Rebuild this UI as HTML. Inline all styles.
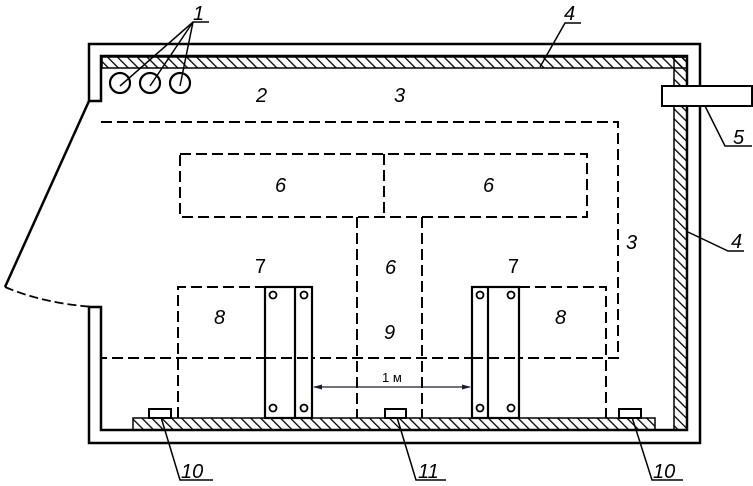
<!DOCTYPE html>
<html><head><meta charset="utf-8"><style>
html,body{margin:0;padding:0;background:#fff;}
svg{display:block;}
text{font-family:"Liberation Sans",sans-serif;font-size:20px;font-style:italic;fill:#000;}
</style></head><body>
<svg width="753" height="486" viewBox="0 0 753 486" xmlns="http://www.w3.org/2000/svg">
<defs>
<pattern id="h" patternUnits="userSpaceOnUse" width="7" height="7" patternTransform="rotate(-45)">
<line x1="0" y1="0" x2="0" y2="7" stroke="#000" stroke-width="2.6"/>
</pattern>
</defs>
<g fill="none" stroke="#000" stroke-width="2.5">
<polyline points="89,101 89,44 700,44 700,443 89,443 89,307 101,307 101,430 687,430 687,56 101,56 101,101 89,101"/>
</g>
<rect x="102" y="57" width="585" height="11" fill="url(#h)" stroke="#000" stroke-width="1.5"/>
<rect x="674" y="57" width="13" height="373" fill="url(#h)" stroke="#000" stroke-width="1.5"/>
<rect x="133" y="418" width="522" height="12" fill="url(#h)" stroke="#000" stroke-width="1.5"/>
<rect x="662" y="86" width="90" height="20" fill="#fff" stroke="#000" stroke-width="2"/>
<line x1="89" y1="101" x2="5" y2="287" stroke="#000" stroke-width="2.5"/>
<path d="M5,287 Q45,304 96,307" fill="none" stroke="#000" stroke-width="1.8" stroke-dasharray="9,4"/>
<g fill="none" stroke="#000" stroke-width="2.2">
<circle cx="120" cy="83" r="10"/><circle cx="150" cy="83" r="10"/><circle cx="180" cy="83" r="10"/>
</g>
<g stroke="#000" stroke-width="1.5" fill="none">
<polyline points="120,86 193,22 209,22"/>
<line x1="150" y1="86" x2="193" y2="22"/>
<line x1="180" y1="86" x2="193" y2="22"/>
<polyline points="540,67 565,23 581,23"/>
<polyline points="688,232 728,251 744,251"/>
<polyline points="705,106 725,146 752,146"/>
<polyline points="160,414 180,480 213,480"/>
<polyline points="396,414 416,480 446,480"/>
<polyline points="631,414 652,480 683,480"/>
</g>
<g fill="none" stroke="#000" stroke-width="2" stroke-dasharray="11,5">
<polyline points="101,122 618,122 618,358 101,358"/>
<rect x="180" y="154" width="407" height="63"/>
<line x1="384" y1="154" x2="384" y2="217"/>
<line x1="357" y1="217" x2="357" y2="418"/>
<line x1="422" y1="217" x2="422" y2="418"/>
<polyline points="178,418 178,287 265,287"/>
<polyline points="519,287 606,287 606,418"/>
</g>
<g fill="#fff" stroke="#000" stroke-width="2.2">
<rect x="265" y="287" width="47" height="131"/>
<rect x="472" y="287" width="47" height="131"/>
</g>
<g stroke="#000" stroke-width="2.2"><line x1="295" y1="287" x2="295" y2="418"/><line x1="488" y1="287" x2="488" y2="418"/></g>
<g fill="none" stroke="#000" stroke-width="1.8">
<circle cx="273" cy="295" r="3.5"/><circle cx="304" cy="295" r="3.5"/><circle cx="273" cy="408" r="3.5"/><circle cx="304" cy="408" r="3.5"/>
<circle cx="480" cy="295" r="3.5"/><circle cx="511" cy="295" r="3.5"/><circle cx="480" cy="408" r="3.5"/><circle cx="511" cy="408" r="3.5"/>
</g>
<g stroke="#000" stroke-width="2" stroke-dasharray="11,5"><line x1="265" y1="358" x2="312" y2="358"/><line x1="472" y1="358" x2="519" y2="358"/></g>
<line x1="314" y1="387" x2="470" y2="387" stroke="#1a1a3a" stroke-width="1.3"/>
<polygon points="313,387 322,384.5 322,389.5" fill="#1a1a3a"/>
<polygon points="471,387 462,384.5 462,389.5" fill="#1a1a3a"/>
<text x="382" y="382" style="font-style:normal;font-size:13px">1 м</text>
<g fill="#fff" stroke="#000" stroke-width="2">
<rect x="149" y="409" width="22" height="9"/><rect x="385" y="409" width="21" height="9"/><rect x="619" y="409" width="22" height="9"/>
</g>
<text x="193" y="20">1</text>
<text x="256" y="102">2</text>
<text x="394" y="102">3</text>
<text x="626" y="249">3</text>
<text x="564" y="20">4</text>
<text x="731" y="248">4</text>
<text x="733" y="144">5</text>
<text x="275" y="192">6</text>
<text x="483" y="192">6</text>
<text x="385" y="274">6</text>
<text x="255" y="273" style="font-style:normal">7</text>
<text x="508" y="273" style="font-style:normal">7</text>
<text x="214" y="324">8</text>
<text x="555" y="324">8</text>
<text x="384" y="339">9</text>
<text x="181" y="478">10</text>
<text x="418" y="478">11</text>
<text x="653" y="478">10</text>
</svg>
</body></html>
